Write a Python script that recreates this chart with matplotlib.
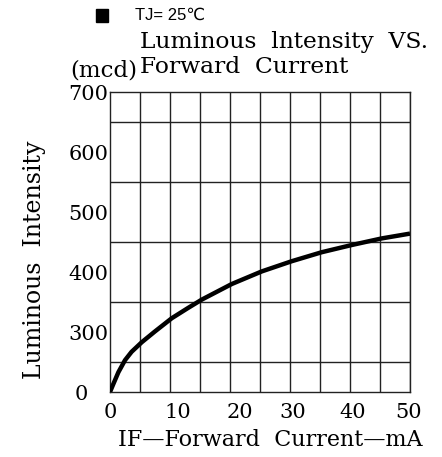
import matplotlib
matplotlib.use("Agg")
import matplotlib.pyplot as plt
from matplotlib.patches import Rectangle
import numpy as np

# curve (x in mA on the drawn scale, y on the drawn scale)
current = [0, 0.5, 1.4, 2.5, 3.6, 5.3, 7.5, 10.3, 13.0, 15.3, 20.3, 25.3, 30.3, 35.3, 40.3, 45.3, 50.0]
intensity = [200, 212, 233, 253, 267, 283, 301, 323, 340, 354, 380, 401, 418, 433, 445, 456, 464]

# tick labels as printed (positions where they sit on the drawn grid)
xtick_pos = [0, 11.3, 21.7, 30.5, 40.5, 49.7]
xtick_lbl = ["0", "10", "20", "30", "40", "50"]
ytick_pos = [200, 300, 400, 500, 600, 700]
ytick_lbl = ["0\u2007 ", "300", "400", "500", "600", "700"]

serif = ["DejaVu Serif", "DejaVu Sans"]

fig = plt.figure(figsize=(4.42, 4.57), dpi=100)
ax = fig.add_axes([110 / 442, 65 / 457, 300 / 442, 300 / 457])

ax.plot(current, intensity, color="black", lw=3.2, solid_capstyle="butt", zorder=3)

ax.set_xlim(0, 50)
ax.set_ylim(200, 700)
ax.set_xticks(np.arange(0, 51, 5), minor=True)
ax.set_yticks(np.arange(200, 701, 50), minor=True)
ax.grid(which="minor", color="#222222", lw=1.0)
ax.set_xticks(xtick_pos)
ax.set_xticklabels(xtick_lbl, fontfamily=serif, fontsize=15)
ax.set_yticks(ytick_pos)
ax.set_yticklabels(ytick_lbl, fontfamily=serif, fontsize=15)
ax.tick_params(which="both", length=0)
ax.tick_params(axis="x", pad=8)
ax.tick_params(axis="y", pad=1)
for s in ax.spines.values():
    s.set_color("#222222")
    s.set_linewidth(1.0)

fig.text(35 / 442, 1 - 260 / 457, "Luminous  Intensity", rotation=90,
         ha="center", va="center", fontfamily=serif, fontsize=17)
fig.text(270 / 442, 1 - 440 / 457, "IF\u2014Forward  Current\u2014mA",
         ha="center", va="center", fontfamily=serif, fontsize=16)

fig.patches.append(Rectangle((96 / 442, 1 - 22 / 457), 12 / 442, 13 / 457,
                             transform=fig.transFigure, color="black"))
fig.text(135 / 442, 1 - 15 / 457, "TJ= 25\u2103", ha="left", va="center",
         fontfamily=["Liberation Sans", "DejaVu Sans"], fontsize=12)
fig.text(140 / 442, 1 - 42 / 457, "Luminous  lntensity  VS.", ha="left", va="center",
         fontfamily=serif, fontsize=16.8)
fig.text(140 / 442, 1 - 67 / 457, "Forward  Current", ha="left", va="center",
         fontfamily=serif, fontsize=16.8)
fig.text(70 / 442, 1 - 71 / 457, "(mcd)", ha="left", va="center",
         fontfamily=serif, fontsize=16.5)

fig.savefig("out.png", dpi=100)
